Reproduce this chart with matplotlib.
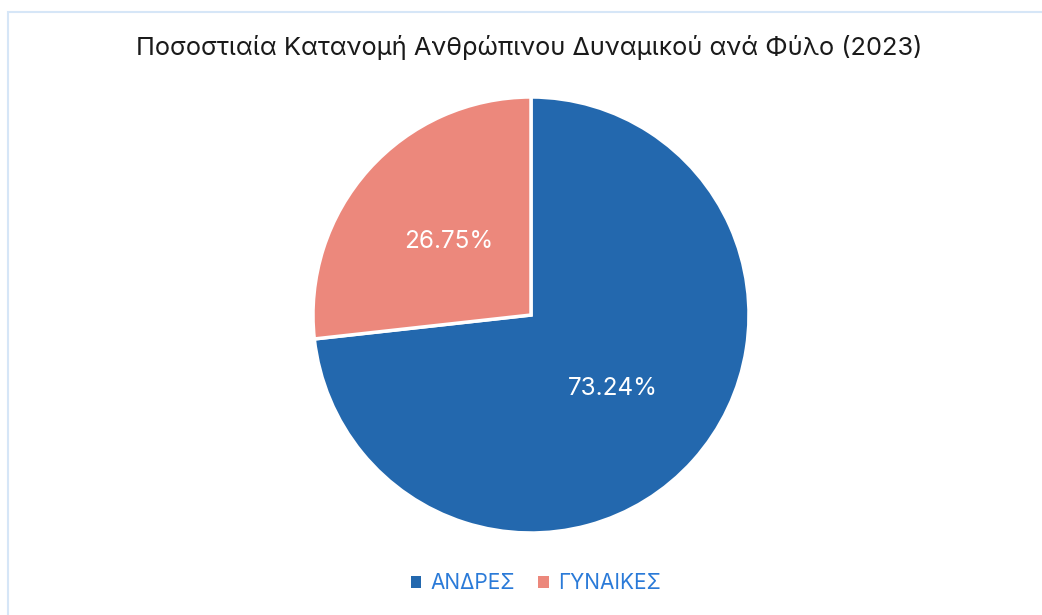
import numpy as np
import matplotlib.pyplot as plt
from matplotlib.patches import Rectangle

plt.rcParams['font.family'] = ['Inter', 'DejaVu Sans']

labels = ["ΑΝΔΡΕΣ", "ΓΥΝΑΙΚΕΣ"]
values = [73.24, 26.75]
colors = ["#2368ae", "#ec887c"]
title = "Ποσοστιαία Κατανομή Ανθρώπινου Δυναμικού ανά Φύλο (2023)"

fig = plt.figure(figsize=(10.42, 6.15), dpi=100)
fig.patches.append(Rectangle((8 / 1042, -0.1), 1.2, 1 - 12 / 615 + 0.1,
                             transform=fig.transFigure, fill=False,
                             edgecolor="#d6e6f7", linewidth=1.5))

# pie axes: center (531, 315), radius 218 px
r = 218
ax = fig.add_axes([(531 - r) / 1042, 1 - (315 + r) / 615, 2 * r / 1042, 2 * r / 615])
wedges, texts = ax.pie(values, colors=colors, startangle=90, counterclock=False,
                       wedgeprops=dict(edgecolor="white", linewidth=2.5), radius=1)
for w, v in zip(wedges, values):
    ang = np.deg2rad((w.theta1 + w.theta2) / 2)
    ax.text(0.505 * np.cos(ang), 0.505 * np.sin(ang), f"{v:.2f}%", ha="center", va="center",
            color="white", fontsize=17.5)
ax.set_xlim(-1, 1)
ax.set_ylim(-1, 1)
ax.set_aspect("equal")

fig.text(529 / 1042, 1 - 48 / 615, title, ha="center", va="center", fontsize=18.3, color="#1a1a1a")

leg = fig.legend(wedges, labels, loc="center", bbox_to_anchor=(536 / 1042, 1 - 583 / 615),
                 ncol=2, frameon=False, fontsize=15, handlelength=0.5, handleheight=0.5,
                 handletextpad=0.45, columnspacing=1.1)
for t in leg.get_texts():
    t.set_color("#2a7ad8")
for h in leg.legend_handles:
    h.set_edgecolor("none")

fig.savefig("out.png", dpi=100)
